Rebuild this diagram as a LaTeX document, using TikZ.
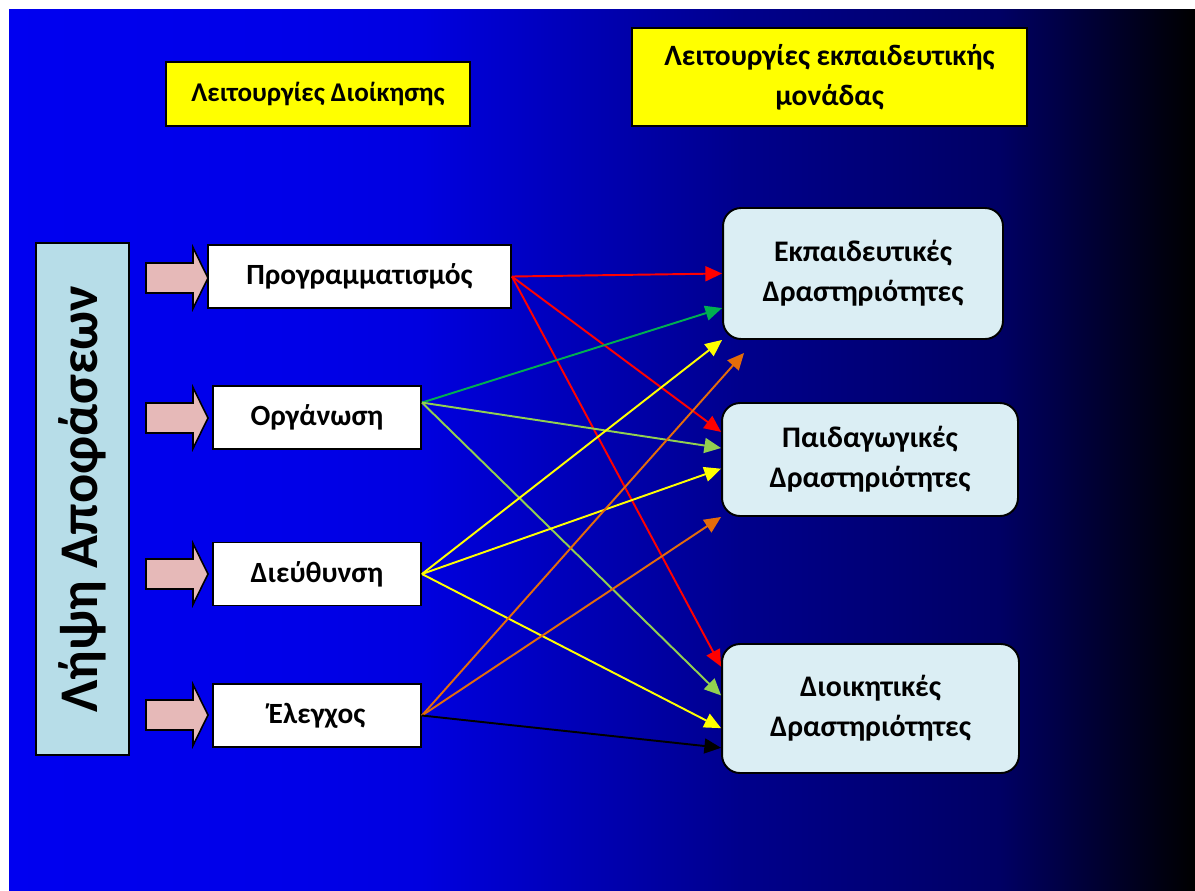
\documentclass[tikz,border=0pt]{standalone}
\usepackage{fontspec}
\setmainfont{Carlito}
\usetikzlibrary{arrows.meta,calc}
\definecolor{bgA}{RGB}{0,0,240}
\definecolor{bgB}{RGB}{0,0,232}
\definecolor{bgC}{RGB}{0,0,224}
\definecolor{bgD}{RGB}{0,0,140}
\definecolor{bgE}{RGB}{0,0,100}
\definecolor{bgF}{RGB}{0,0,0}
\definecolor{hdrfill}{RGB}{255,255,0}
\definecolor{decfill}{RGB}{183,221,232}
\definecolor{actfill}{RGB}{219,238,244}
\definecolor{pinkfill}{RGB}{230,185,184}
\definecolor{grn}{RGB}{0,176,80}
\definecolor{lgrn}{RGB}{146,208,80}
\definecolor{ylw}{RGB}{255,255,0}
\definecolor{orng}{RGB}{228,108,10}
\pgfdeclarehorizontalshading{slidebg}{100bp}{color(0bp)=(bgA); color(25bp)=(bgA); color(37.25bp)=(bgB); color(42.35bp)=(bgC); color(55.8bp)=(bgD); color(66.75bp)=(bgE); color(75bp)=(bgF); color(100bp)=(bgF)}

\begin{document}
\begin{tikzpicture}[x=0.02cm,y=-0.02cm,
  hdr/.style={draw,line width=1.1pt,fill=hdrfill,align=center,inner sep=0pt,font=\fontsize{16.8}{23}\selectfont\bfseries},
  fn/.style={draw,line width=1.1pt,fill=white,minimum width=4.16cm,minimum height=1.26cm,inner sep=0pt,font=\fontsize{16.7}{20}\selectfont\bfseries},
  act/.style={draw,line width=1.1pt,fill=actfill,rounded corners=0.36cm,align=center,inner sep=0pt,font=\fontsize{17}{22.8}\selectfont\bfseries},
  lnk/.style={-{Triangle[length=9.5pt,width=8.5pt]},line width=1.1pt}]
  \useasboundingbox (0,0) rectangle (1195,890);
  \shade[shading=slidebg] (9,9) rectangle (1195,890);
  % headers
  \node[hdr,font=\fontsize{15.4}{23}\selectfont\bfseries,minimum width=6.08cm,minimum height=1.28cm] (hadm) at (318,94) {Λειτουργίες Διοίκησης};
  \node[hdr,minimum width=7.9cm,minimum height=1.96cm] (hedu) at (829.5,77) {Λειτουργίες εκπαιδευτικής\\μονάδας};
  % decision bar
  \node[draw,line width=1.1pt,fill=decfill,rotate=90,minimum width=10.24cm,minimum height=1.86cm,inner sep=0pt,font=\fontsize{31}{31}\selectfont\bfseries] (dec) at (82.5,499) {Λήψη Αποφάσεων};
  \foreach \y in {278,418,574,715}
    \draw[fill=pinkfill,line width=0.9pt] (146,\y-15) -- (193,\y-15) -- (193,\y-30.5) -- (208,\y) -- (193,\y+30.5) -- (193,\y+15) -- (146,\y+15) -- cycle;
  % management functions
  \node[fn,minimum width=6.06cm] (prog) at (359.5,276.5) {Προγραμματισμός};
  \node[fn] (org) at (317,417.5) {Οργάνωση};
  \node[fn] (dir) at (317,574) {Διεύθυνση};
  \node[fn] (ctrl) at (317,715.5) {Έλεγχος};
  % school activities
  \node[act,minimum width=5.6cm,minimum height=2.62cm] (edu) at (863,273.5) {Εκπαιδευτικές\\Δραστηριότητες};
  \node[act,minimum width=5.92cm,minimum height=2.26cm] (ped) at (870,459.5) {Παιδαγωγικές\\Δραστηριότητες};
  \node[act,minimum width=5.94cm,minimum height=2.58cm] (adm) at (870.5,708.5) {Διοικητικές\\Δραστηριότητες};
  % links
  \coordinate (orgout) at ($(org.north east)!0.27!(org.south east)$);
  \draw[lnk,red] (prog.east) -- (edu.west);
  \draw[lnk,red] (prog.east) -- ($(ped.north west)!0.26!(ped.south west)$);
  \draw[lnk,red] (prog.east) -- ($(adm.north west)!0.18!(adm.south west)$);
  \draw[lnk,grn] (orgout) -- ($(edu.north west)!0.76!(edu.south west)$);
  \draw[lnk,lgrn] (orgout) -- ($(ped.north west)!0.40!(ped.south west)$);
  \draw[lnk,lgrn] (orgout) -- ($(adm.north west)!0.40!(adm.south west)$);
  \draw[lnk,ylw] (dir.east) -- (edu.south west);
  \draw[lnk,ylw] (dir.east) -- ($(ped.north west)!0.58!(ped.south west)$);
  \draw[lnk,ylw] (dir.east) -- ($(adm.north west)!0.65!(adm.south west)$);
  \draw[lnk,orng] (ctrl.east) -- ($(edu.south west)+(22,13)$);
  \draw[lnk,orng] (ctrl.east) -- (ped.south west);
  \draw[lnk,black] (ctrl.east) -- ($(adm.north west)!0.80!(adm.south west)$);
\end{tikzpicture}
\end{document}
